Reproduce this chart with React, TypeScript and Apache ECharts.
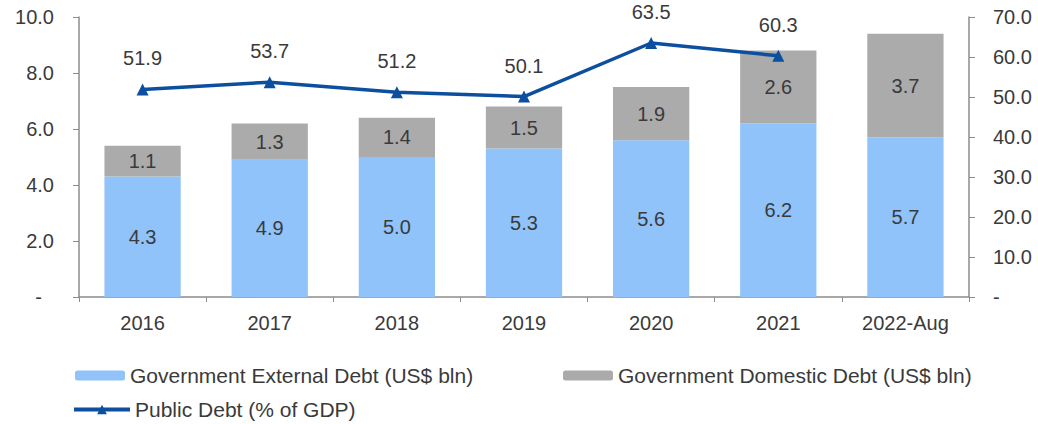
import React, { useEffect, useRef } from "react";
import * as echarts from "echarts";

const categories = ["2016", "2017", "2018", "2019", "2020", "2021", "2022-Aug"];
const externalDebt = [4.3, 4.9, 5.0, 5.3, 5.6, 6.2, 5.7];
const domesticDebt = [1.1, 1.3, 1.4, 1.5, 1.9, 2.6, 3.7];
const publicDebtPct: (number | null)[] = [51.9, 53.7, 51.2, 50.1, 63.5, 60.3, null];

const FONT = "Liberation Sans, Arial, sans-serif";
const TEXT = "#3a3a3a";
const AXIS = "#8c8c8c";
const FS = 20;
const LINE = "#0b4f9e";

export default function App() {
  const ref = useRef<HTMLDivElement>(null);
  useEffect(() => {
    if (!ref.current) return;
    const chart = echarts.init(ref.current, null, { renderer: "svg" });
    const legendText = { fontSize: 21, color: TEXT, fontFamily: FONT };
    chart.setOption({
      animation: false,
      textStyle: { fontFamily: FONT },
      grid: { left: 79, right: 69, top: 17, bottom: 127 },
      legend: [
        {
          data: ["Government External Debt (US$ bln)"],
          left: 70,
          top: 360,
          itemWidth: 50,
          itemHeight: 10,
          textStyle: legendText,
        },
        {
          data: ["Government Domestic Debt (US$ bln)"],
          left: 558,
          top: 360,
          itemWidth: 50,
          itemHeight: 10,
          textStyle: legendText,
        },
        {
          data: ["Public Debt (% of GDP)"],
          left: 67,
          top: 394,
          itemWidth: 56,
          itemHeight: 12,
          lineStyle: { width: 4, color: LINE },
          textStyle: legendText,
        },
      ],
      xAxis: {
        type: "category",
        data: categories,
        axisLine: { lineStyle: { color: AXIS, width: 1.5 } },
        axisTick: { show: true, alignWithLabel: false, length: 5, lineStyle: { color: AXIS } },
        axisLabel: { fontSize: FS, color: TEXT, margin: 16, fontFamily: FONT },
      },
      yAxis: [
        {
          type: "value",
          min: 0,
          max: 10,
          interval: 2,
          splitLine: { show: false },
          axisLine: { show: true, lineStyle: { color: AXIS, width: 1.5 } },
          axisTick: { show: true, length: 6, lineStyle: { color: AXIS } },
          axisLabel: {
            fontSize: FS,
            color: TEXT,
            margin: 25,
            fontFamily: FONT,
            formatter: (v: number) => (v === 0 ? "{d|-}" : v.toFixed(1)),
            rich: { d: { fontSize: FS, color: TEXT, padding: [0, 12, 0, 0], fontFamily: FONT } },
          },
        },
        {
          type: "value",
          min: 0,
          max: 70,
          interval: 10,
          splitLine: { show: false },
          axisLine: { show: true, lineStyle: { color: AXIS, width: 1.5 } },
          axisTick: { show: true, length: 6, lineStyle: { color: AXIS } },
          axisLabel: {
            fontSize: FS,
            color: TEXT,
            margin: 24,
            fontFamily: FONT,
            formatter: (v: number) => (v === 0 ? "-" : v.toFixed(1)),
          },
        },
      ],
      series: [
        {
          name: "Government External Debt (US$ bln)",
          type: "bar",
          stack: "debt",
          data: externalDebt,
          barWidth: "60%",
          itemStyle: { color: "#8fc3fa" },
          label: {
            show: true,
            position: "inside",
            fontSize: FS,
            color: TEXT,
            fontFamily: FONT,
            formatter: (p: any) => Number(p.value).toFixed(1),
          },
        },
        {
          name: "Government Domestic Debt (US$ bln)",
          type: "bar",
          stack: "debt",
          data: domesticDebt,
          barWidth: "60%",
          itemStyle: { color: "#ababab" },
          label: {
            show: true,
            position: "inside",
            fontSize: FS,
            color: TEXT,
            fontFamily: FONT,
            formatter: (p: any) => Number(p.value).toFixed(1),
          },
        },
        {
          name: "Public Debt (% of GDP)",
          type: "line",
          yAxisIndex: 1,
          data: publicDebtPct,
          symbol: "triangle",
          symbolSize: 12,
          lineStyle: { color: LINE, width: 3.5 },
          itemStyle: { color: LINE },
          label: {
            show: true,
            position: "top",
            distance: 15,
            fontSize: FS,
            color: TEXT,
            fontFamily: FONT,
            formatter: (p: any) => Number(p.value).toFixed(1),
          },
        },
      ],
    });
    return () => chart.dispose();
  }, []);
  return (
    <div
      ref={ref}
      style={{ position: "fixed", left: 0, top: 0, width: 1038, height: 424, background: "#fff" }}
    />
  );
}
